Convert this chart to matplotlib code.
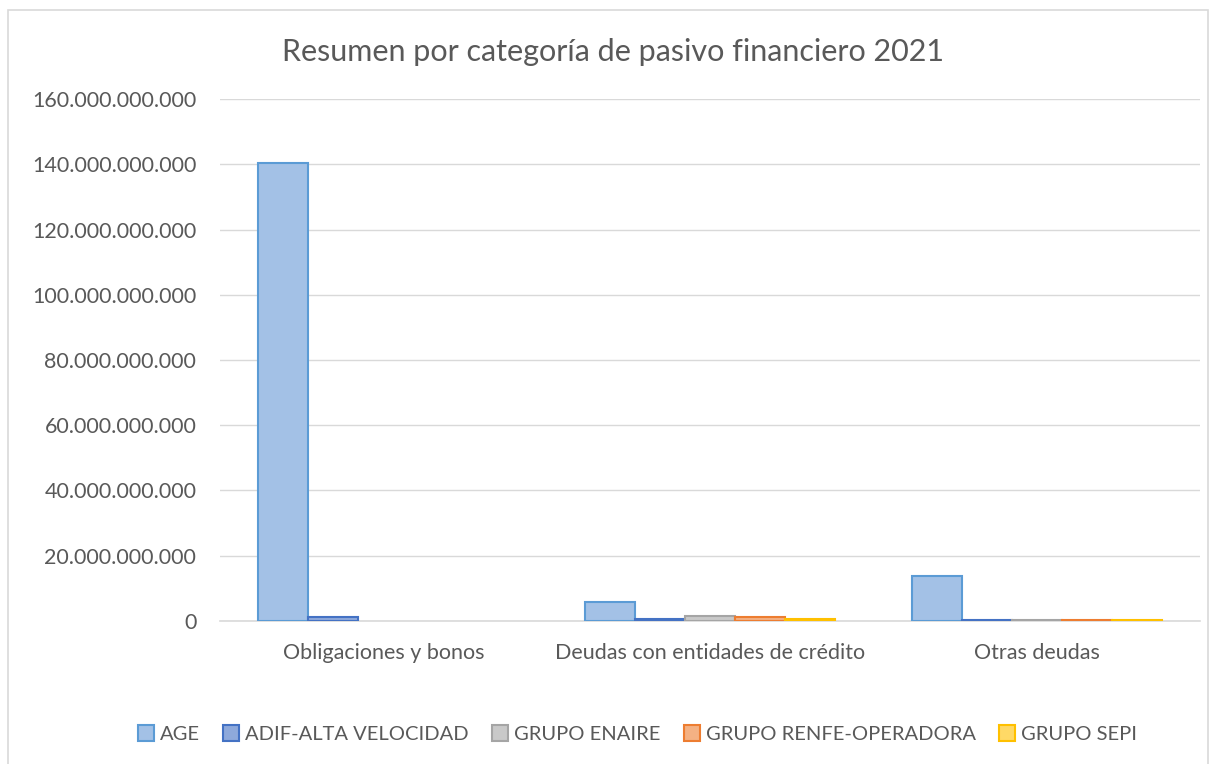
import numpy as np
import matplotlib.pyplot as plt
from matplotlib.patches import Rectangle
from matplotlib.ticker import FuncFormatter

plt.rcParams['font.family'] = ['Lato', 'DejaVu Sans']

categories = ['Obligaciones y bonos', 'Deudas con entidades de crédito', 'Otras deudas']
series = ['AGE', 'ADIF-ALTA VELOCIDAD', 'GRUPO ENAIRE', 'GRUPO RENFE-OPERADORA', 'GRUPO SEPI']
age = [140.4e9, 5.8e9, 13.8e9]
adif = [1.2e9, 0.6e9, 0.3e9]
enaire = [np.nan, 1.5e9, 0.4e9]
renfe = [np.nan, 1.2e9, 0.3e9]
sepi = [np.nan, 0.5e9, 0.3e9]
values = [age, adif, enaire, renfe, sepi]

fills = ['#a3c1e6', '#8ea9db', '#c9c9c9', '#f4b183', '#ffd966']
edges = ['#5b9bd5', '#4472c4', '#a5a5a5', '#ed7d31', '#ffc000']

fig = plt.figure(figsize=(12.1, 7.64), dpi=100)
ax = fig.add_axes([0.1818, 0.1872, 0.81, 0.6832])

x = np.arange(len(categories))
w = 0.153
for i, (s, v) in enumerate(zip(series, values)):
    ax.bar(x + (i - 2) * w, v, width=w, color=fills[i], edgecolor=edges[i],
           linewidth=1.5, label=s, zorder=3)

ax.set_xlim(-0.5, 2.5)
ax.set_ylim(0, 160e9)
ax.set_yticks(np.arange(0, 160e9 + 1, 20e9))
ax.yaxis.set_major_formatter(FuncFormatter(lambda v, p: f'{v:,.0f}'.replace(',', '.')))
ax.set_xticks(x)
ax.set_xticklabels(categories)
ax.grid(axis='y', color='#d9d9d9', linewidth=1, zorder=0)
for sp in ['top', 'right', 'left']:
    ax.spines[sp].set_visible(False)
ax.spines['bottom'].set_color('#d9d9d9')
ax.spines['bottom'].set_linewidth(1.2)
ax.tick_params(axis='both', length=0, labelsize=15.5, colors='#595959')
ax.tick_params(axis='y', pad=17)
ax.tick_params(axis='x', pad=16)

fig.text(0.507, 0.932, 'Resumen por categoría de pasivo financiero 2021',
         ha='center', va='center', fontsize=22, color='#595959')

fig.legend(loc='center', bbox_to_anchor=(0.527, 0.039), ncol=5, frameon=False,
           fontsize=14.5, labelcolor='#595959', handlelength=0.8, handleheight=0.8,
           columnspacing=1.15, handletextpad=0.3)

fig.patches.append(Rectangle((8 / 1210, -0.01), 1200 / 1210, 1 - 10 / 764 + 0.01,
                             transform=fig.transFigure, fill=False,
                             edgecolor='#d9d9d9', linewidth=1.2))

fig.savefig('out.png', dpi=100)
